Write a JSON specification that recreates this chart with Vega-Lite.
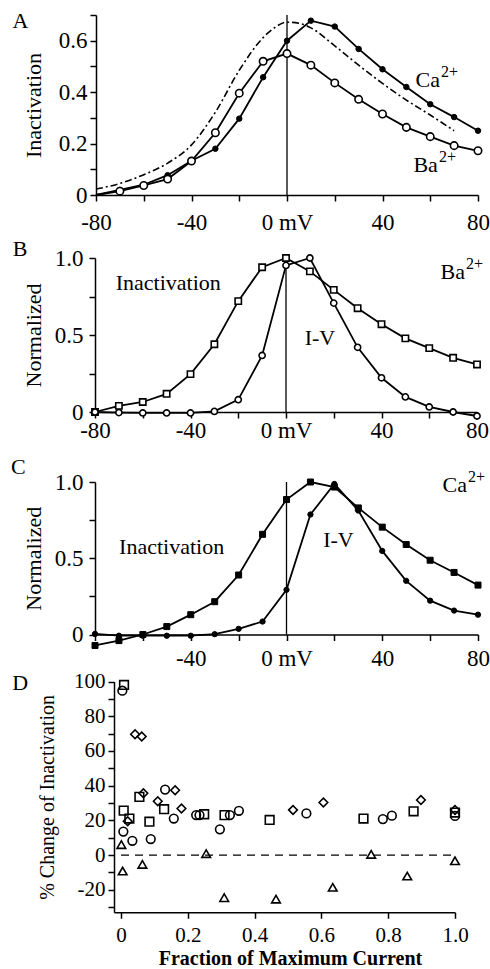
{
  "$schema": "https://vega.github.io/schema/vega-lite/v6.json",
  "width": 490,
  "height": 969,
  "autosize": "none",
  "padding": 0,
  "background": "white",
  "config": {
    "font": "Liberation Serif",
    "view": {"stroke": null},
    "axis": {
      "grid": false,
      "domainColor": "black",
      "domainWidth": 1.5,
      "tickColor": "black",
      "tickWidth": 1.5,
      "tickSize": 6,
      "labelColor": "black",
      "titleColor": "black",
      "labelFont": "Liberation Serif",
      "titleFont": "Liberation Serif",
      "labelFontSize": 23,
      "titleFontSize": 22,
      "titleFontWeight": "normal",
      "labelPadding": 3,
      "labelFlush": false,
      "labelOverlap": false,
      "labelBound": false
    },
    "text": {"font": "Liberation Serif", "fontSize": 22, "color": "black"}
  },
  "datasets": {
    "a": [
      {"x": -80, "y": 0.0, "s": "Ca"}, {"x": -70, "y": 0.02, "s": "Ca"}, {"x": -60, "y": 0.04, "s": "Ca"}, {"x": -50, "y": 0.077, "s": "Ca"}, {"x": -40, "y": 0.133, "s": "Ca"}, {"x": -30, "y": 0.18, "s": "Ca"}, {"x": -20, "y": 0.297, "s": "Ca"}, {"x": -10, "y": 0.458, "s": "Ca"}, {"x": 0, "y": 0.6, "s": "Ca"}, {"x": 10, "y": 0.678, "s": "Ca"}, {"x": 20, "y": 0.655, "s": "Ca"}, {"x": 30, "y": 0.568, "s": "Ca"}, {"x": 40, "y": 0.489, "s": "Ca"}, {"x": 50, "y": 0.42, "s": "Ca"}, {"x": 60, "y": 0.353, "s": "Ca"}, {"x": 70, "y": 0.303, "s": "Ca"}, {"x": 80, "y": 0.25, "s": "Ca"},
      {"x": -80, "y": 0.0, "s": "Ba"}, {"x": -70, "y": 0.015, "s": "Ba"}, {"x": -60, "y": 0.037, "s": "Ba"}, {"x": -50, "y": 0.062, "s": "Ba"}, {"x": -40, "y": 0.132, "s": "Ba"}, {"x": -30, "y": 0.242, "s": "Ba"}, {"x": -20, "y": 0.396, "s": "Ba"}, {"x": -10, "y": 0.52, "s": "Ba"}, {"x": 0, "y": 0.55, "s": "Ba"}, {"x": 10, "y": 0.505, "s": "Ba"}, {"x": 20, "y": 0.436, "s": "Ba"}, {"x": 30, "y": 0.372, "s": "Ba"}, {"x": 40, "y": 0.315, "s": "Ba"}, {"x": 50, "y": 0.263, "s": "Ba"}, {"x": 60, "y": 0.227, "s": "Ba"}, {"x": 70, "y": 0.192, "s": "Ba"}, {"x": 80, "y": 0.172, "s": "Ba"},
      {"x": -80, "y": 0.023, "s": "pred"}, {"x": -70, "y": 0.045, "s": "pred"}, {"x": -60, "y": 0.079, "s": "pred"}, {"x": -50, "y": 0.124, "s": "pred"}, {"x": -40, "y": 0.195, "s": "pred"}, {"x": -30, "y": 0.322, "s": "pred"}, {"x": -20, "y": 0.485, "s": "pred"}, {"x": -10, "y": 0.612, "s": "pred"}, {"x": -5, "y": 0.652, "s": "pred"}, {"x": 0, "y": 0.672, "s": "pred"}, {"x": 5, "y": 0.668, "s": "pred"}, {"x": 10, "y": 0.65, "s": "pred"}, {"x": 20, "y": 0.58, "s": "pred"}, {"x": 30, "y": 0.505, "s": "pred"}, {"x": 40, "y": 0.434, "s": "pred"}, {"x": 50, "y": 0.369, "s": "pred"}, {"x": 60, "y": 0.311, "s": "pred"}, {"x": 70, "y": 0.25, "s": "pred"}
    ],
    "aRule": [{"x": 0, "y": 0, "y2": 0.7}],
    "aText": [
      {"x": -111.6, "y": 0.675, "t": "A", "w": "normal"}
    ],
    "aIon": [
      {"x": 64.1, "y": 0.448, "t": "Ca", "sup": "2+"},
      {"x": 63.2, "y": 0.117, "t": "Ba", "sup": "2+"}
    ],
    "b": [
      {"x": -80, "y": 0.0, "s": "Inact"}, {"x": -70, "y": 0.04, "s": "Inact"}, {"x": -60, "y": 0.065, "s": "Inact"}, {"x": -50, "y": 0.118, "s": "Inact"}, {"x": -40, "y": 0.246, "s": "Inact"}, {"x": -30, "y": 0.44, "s": "Inact"}, {"x": -20, "y": 0.72, "s": "Inact"}, {"x": -10, "y": 0.94, "s": "Inact"}, {"x": 0, "y": 1.0, "s": "Inact"}, {"x": 10, "y": 0.913, "s": "Inact"}, {"x": 20, "y": 0.793, "s": "Inact"}, {"x": 30, "y": 0.674, "s": "Inact"}, {"x": 40, "y": 0.57, "s": "Inact"}, {"x": 50, "y": 0.478, "s": "Inact"}, {"x": 60, "y": 0.415, "s": "Inact"}, {"x": 70, "y": 0.352, "s": "Inact"}, {"x": 80, "y": 0.309, "s": "Inact"},
      {"x": -80, "y": 0.0, "s": "IV"}, {"x": -70, "y": -0.004, "s": "IV"}, {"x": -60, "y": -0.006, "s": "IV"}, {"x": -50, "y": -0.006, "s": "IV"}, {"x": -40, "y": -0.006, "s": "IV"}, {"x": -30, "y": 0.004, "s": "IV"}, {"x": -20, "y": 0.08, "s": "IV"}, {"x": -10, "y": 0.367, "s": "IV"}, {"x": 0, "y": 0.952, "s": "IV"}, {"x": 10, "y": 1.0, "s": "IV"}, {"x": 20, "y": 0.707, "s": "IV"}, {"x": 30, "y": 0.42, "s": "IV"}, {"x": 40, "y": 0.222, "s": "IV"}, {"x": 50, "y": 0.098, "s": "IV"}, {"x": 60, "y": 0.033, "s": "IV"}, {"x": 70, "y": 0.0, "s": "IV"}, {"x": 80, "y": -0.026, "s": "IV"}
    ],
    "bRule": [{"x": 0, "y": 0, "y2": 1.0}],
    "bText": [
      {"x": -111.4, "y": 1.058, "t": "B", "w": "bold"},
      {"x": -49.3, "y": 0.836, "t": "Inactivation", "w": "normal"},
      {"x": 14.2, "y": 0.479, "t": "I-V", "w": "normal"}
    ],
    "bIon": [
      {"x": 75, "y": 0.909, "t": "Ba", "sup": "2+"}
    ],
    "c": [
      {"x": -80, "y": -0.072, "s": "Inact"}, {"x": -70, "y": -0.04, "s": "Inact"}, {"x": -60, "y": 0.0, "s": "Inact"}, {"x": -50, "y": 0.052, "s": "Inact"}, {"x": -40, "y": 0.13, "s": "Inact"}, {"x": -30, "y": 0.215, "s": "Inact"}, {"x": -20, "y": 0.39, "s": "Inact"}, {"x": -10, "y": 0.657, "s": "Inact"}, {"x": 0, "y": 0.885, "s": "Inact"}, {"x": 10, "y": 1.0, "s": "Inact"}, {"x": 20, "y": 0.967, "s": "Inact"}, {"x": 30, "y": 0.83, "s": "Inact"}, {"x": 40, "y": 0.704, "s": "Inact"}, {"x": 50, "y": 0.59, "s": "Inact"}, {"x": 60, "y": 0.487, "s": "Inact"}, {"x": 70, "y": 0.407, "s": "Inact"}, {"x": 80, "y": 0.324, "s": "Inact"},
      {"x": -80, "y": 0.004, "s": "IV"}, {"x": -70, "y": -0.008, "s": "IV"}, {"x": -60, "y": -0.008, "s": "IV"}, {"x": -50, "y": -0.008, "s": "IV"}, {"x": -40, "y": -0.008, "s": "IV"}, {"x": -30, "y": 0.002, "s": "IV"}, {"x": -20, "y": 0.037, "s": "IV"}, {"x": -10, "y": 0.085, "s": "IV"}, {"x": 0, "y": 0.293, "s": "IV"}, {"x": 10, "y": 0.787, "s": "IV"}, {"x": 20, "y": 0.987, "s": "IV"}, {"x": 30, "y": 0.813, "s": "IV"}, {"x": 40, "y": 0.548, "s": "IV"}, {"x": 50, "y": 0.352, "s": "IV"}, {"x": 60, "y": 0.222, "s": "IV"}, {"x": 70, "y": 0.157, "s": "IV"}, {"x": 80, "y": 0.13, "s": "IV"}
    ],
    "cRule": [{"x": 0, "y": 0, "y2": 1.0}],
    "cText": [
      {"x": -112, "y": 1.098, "t": "C", "w": "normal"},
      {"x": -48, "y": 0.576, "t": "Inactivation", "w": "normal"},
      {"x": 21.7, "y": 0.62, "t": "I-V", "w": "normal"}
    ],
    "cIon": [
      {"x": 75.4, "y": 0.98, "t": "Ca", "sup": "2+"}
    ],
    "d": [
      {"x": 0.004, "y": 94.7, "shape": "circle"}, {"x": 0.007, "y": 13.5, "shape": "circle"}, {"x": 0.034, "y": 8.2, "shape": "circle"}, {"x": 0.089, "y": 9.2, "shape": "circle"}, {"x": 0.132, "y": 37.7, "shape": "circle"}, {"x": 0.158, "y": 21, "shape": "circle"}, {"x": 0.225, "y": 23, "shape": "circle"}, {"x": 0.235, "y": 23, "shape": "circle"}, {"x": 0.296, "y": 14.8, "shape": "circle"}, {"x": 0.326, "y": 23, "shape": "circle"}, {"x": 0.353, "y": 25.5, "shape": "circle"}, {"x": 0.555, "y": 24, "shape": "circle"}, {"x": 0.784, "y": 20.7, "shape": "circle"}, {"x": 0.811, "y": 22.7, "shape": "circle"}, {"x": 1.0, "y": 22.5, "shape": "circle"},
      {"x": 0.009, "y": 98, "shape": "square"}, {"x": 0.008, "y": 25.6, "shape": "square"}, {"x": 0.025, "y": 21, "shape": "square"}, {"x": 0.055, "y": 33.5, "shape": "square"}, {"x": 0.085, "y": 19.2, "shape": "square"}, {"x": 0.129, "y": 26.4, "shape": "square"}, {"x": 0.249, "y": 23.5, "shape": "square"}, {"x": 0.31, "y": 23, "shape": "square"}, {"x": 0.445, "y": 20.2, "shape": "square"}, {"x": 0.726, "y": 21, "shape": "square"}, {"x": 0.876, "y": 25.2, "shape": "square"}, {"x": 1.0, "y": 24.5, "shape": "square"},
      {"x": 0.02, "y": 19.5, "shape": "diamond"}, {"x": 0.042, "y": 69.6, "shape": "diamond"}, {"x": 0.062, "y": 68.3, "shape": "diamond"}, {"x": 0.067, "y": 35.6, "shape": "diamond"}, {"x": 0.11, "y": 31, "shape": "diamond"}, {"x": 0.162, "y": 37.3, "shape": "diamond"}, {"x": 0.181, "y": 26.8, "shape": "diamond"}, {"x": 0.515, "y": 26, "shape": "diamond"}, {"x": 0.606, "y": 30.3, "shape": "diamond"}, {"x": 0.898, "y": 31.7, "shape": "diamond"}, {"x": 1.0, "y": 26, "shape": "diamond"},
      {"x": 0.001, "y": 6, "shape": "triangle"}, {"x": 0.005, "y": -9.2, "shape": "triangle"}, {"x": 0.064, "y": -5.4, "shape": "triangle"}, {"x": 0.255, "y": 0.8, "shape": "triangle"}, {"x": 0.309, "y": -24.6, "shape": "triangle"}, {"x": 0.464, "y": -25.4, "shape": "triangle"}, {"x": 0.634, "y": -18.6, "shape": "triangle"}, {"x": 0.749, "y": 0.4, "shape": "triangle"}, {"x": 0.857, "y": -12.1, "shape": "triangle"}, {"x": 1.0, "y": -3.3, "shape": "triangle"}
    ],
    "dRule": [{"x": 0, "x2": 1.0, "y": 0}],
    "dText": [
      {"x": -0.302, "y": 99.1, "t": "D", "w": "normal"}
    ]
  },
  "layer": [
    {
      "encoding": {
        "x": {"field": "x", "type": "quantitative", "scale": {"domain": [-80, 80], "range": [96, 478], "nice": false, "zero": false},
          "axis": {"orient": "bottom", "offset": -774, "values": [-80, -60, -40, -20, 0, 20, 40, 60, 80], "labelExpr": "datum.value == 0 ? '0 mV' : (datum.value % 40 == 0 ? '' + datum.value : '')", "title": null, "labelPadding": 10}},
        "y": {"field": "y", "type": "quantitative", "scale": {"domain": [0, 0.7], "range": [195, 15], "nice": false, "zero": false},
          "axis": {"orient": "left", "offset": -96, "values": [0, 0.1, 0.2, 0.3, 0.4, 0.5, 0.6, 0.7], "labelExpr": "datum.value == 0 ? '0' : datum.value == 0.2 ? '0.2' : datum.value == 0.4 ? '0.4' : datum.value == 0.6 ? '0.6' : ''", "title": "Inactivation", "titleX": -63, "titleBaseline": "middle", "titleAlign": "center"}}
      },
      "layer": [
        {"data": {"name": "a"}, "transform": [{"filter": "datum.s != 'pred'"}], "mark": {"type": "line", "stroke": "black", "strokeWidth": 1.8}, "encoding": {"detail": {"field": "s"}}},
        {"data": {"name": "a"}, "transform": [{"filter": "datum.s == 'pred'"}], "mark": {"type": "line", "stroke": "black", "strokeWidth": 1.6, "strokeDash": [7, 3, 2, 3], "interpolate": "monotone"}, "encoding": {}},
        {"data": {"name": "aRule"}, "mark": {"type": "rule", "stroke": "black", "strokeWidth": 1.3}, "encoding": {"y2": {"field": "y2"}}},
        {"data": {"name": "a"}, "transform": [{"filter": "datum.s == 'Ca' && datum.x > -80"}], "mark": {"type": "point", "shape": "circle", "filled": true, "fill": "black", "stroke": "black", "strokeWidth": 1, "size": 30, "opacity": 1}},
        {"data": {"name": "a"}, "transform": [{"filter": "datum.s == 'Ba' && datum.x > -80"}], "mark": {"type": "point", "shape": "circle", "filled": true, "fill": "white", "stroke": "black", "strokeWidth": 1.6, "size": 55, "opacity": 1}},
        {"data": {"name": "aText"}, "mark": {"type": "text", "fontSize": 22, "align": "center", "baseline": "middle"}, "encoding": {"text": {"field": "t"}, "fontWeight": {"field": "w", "type": "nominal", "scale": null}}},
        {"data": {"name": "aIon"}, "mark": {"type": "text", "fontSize": 22, "align": "right", "baseline": "middle"}, "encoding": {"text": {"field": "t"}}},
        {"data": {"name": "aIon"}, "mark": {"type": "text", "fontSize": 16, "align": "left", "baseline": "middle", "dx": 1, "dy": -8}, "encoding": {"text": {"field": "sup"}}}
      ]
    },
    {
      "encoding": {
        "x": {"field": "x", "type": "quantitative", "scale": {"domain": [-80, 80], "range": [95, 477], "nice": false, "zero": false},
          "axis": {"orient": "bottom", "offset": -557, "values": [-80, -60, -40, -20, 0, 20, 40, 60, 80], "labelExpr": "datum.value == 0 ? '0 mV' : (datum.value % 40 == 0 ? '' + datum.value : '')", "title": null, "labelPadding": 1}},
        "y": {"field": "y", "type": "quantitative", "scale": {"domain": [0, 1], "range": [412, 258], "nice": false, "zero": false},
          "axis": {"orient": "left", "offset": -95, "values": [0, 0.25, 0.5, 0.75, 1], "labelExpr": "datum.value == 0 ? '0' : datum.value == 0.5 ? '0.5' : datum.value == 1 ? '1.0' : ''", "title": "Normalized", "titleX": -62, "titleBaseline": "middle", "titleAlign": "center", "labelPadding": 6}}
      },
      "layer": [
        {"data": {"name": "b"}, "mark": {"type": "line", "stroke": "black", "strokeWidth": 1.8}, "encoding": {"detail": {"field": "s"}}},
        {"data": {"name": "bRule"}, "mark": {"type": "rule", "stroke": "black", "strokeWidth": 1.3}, "encoding": {"y2": {"field": "y2"}}},
        {"data": {"name": "b"}, "transform": [{"filter": "datum.s == 'Inact'"}], "mark": {"type": "point", "shape": "square", "filled": true, "fill": "white", "stroke": "black", "strokeWidth": 1.6, "size": 40, "opacity": 1}},
        {"data": {"name": "b"}, "transform": [{"filter": "datum.s == 'IV'"}], "mark": {"type": "point", "shape": "circle", "filled": true, "fill": "white", "stroke": "black", "strokeWidth": 1.6, "size": 38, "opacity": 1}},
        {"data": {"name": "bText"}, "mark": {"type": "text", "fontSize": 22, "align": "center", "baseline": "middle"}, "encoding": {"text": {"field": "t"}, "fontWeight": {"field": "w", "type": "nominal", "scale": null}}},
        {"data": {"name": "bIon"}, "mark": {"type": "text", "fontSize": 22, "align": "right", "baseline": "middle"}, "encoding": {"text": {"field": "t"}}},
        {"data": {"name": "bIon"}, "mark": {"type": "text", "fontSize": 16, "align": "left", "baseline": "middle", "dx": 1, "dy": -8}, "encoding": {"text": {"field": "sup"}}}
      ]
    },
    {
      "encoding": {
        "x": {"field": "x", "type": "quantitative", "scale": {"domain": [-80, 80], "range": [95, 478], "nice": false, "zero": false},
          "axis": {"orient": "bottom", "offset": -334.5, "values": [-80, -60, -40, -20, 0, 20, 40, 60, 80], "labelExpr": "datum.value == 0 ? '0 mV' : (datum.value % 40 == 0 && datum.value != -80 ? '' + datum.value : '')", "title": null, "labelPadding": 7}},
        "y": {"field": "y", "type": "quantitative", "scale": {"domain": [0, 1], "range": [634.5, 482], "nice": false, "zero": false},
          "axis": {"orient": "left", "offset": -95, "values": [0, 0.25, 0.5, 0.75, 1], "labelExpr": "datum.value == 0 ? '0' : datum.value == 0.5 ? '0.5' : datum.value == 1 ? '1.0' : ''", "title": "Normalized", "titleX": -62, "titleBaseline": "middle", "titleAlign": "center", "labelPadding": 6}}
      },
      "layer": [
        {"data": {"name": "c"}, "mark": {"type": "line", "stroke": "black", "strokeWidth": 1.8}, "encoding": {"detail": {"field": "s"}}},
        {"data": {"name": "cRule"}, "mark": {"type": "rule", "stroke": "black", "strokeWidth": 1.3}, "encoding": {"y2": {"field": "y2"}}},
        {"data": {"name": "c"}, "transform": [{"filter": "datum.s == 'Inact'"}], "mark": {"type": "point", "shape": "square", "filled": true, "fill": "black", "stroke": "black", "strokeWidth": 1, "size": 36, "opacity": 1}},
        {"data": {"name": "c"}, "transform": [{"filter": "datum.s == 'IV'"}], "mark": {"type": "point", "shape": "circle", "filled": true, "fill": "black", "stroke": "black", "strokeWidth": 1, "size": 28, "opacity": 1}},
        {"data": {"name": "cText"}, "mark": {"type": "text", "fontSize": 22, "align": "center", "baseline": "middle"}, "encoding": {"text": {"field": "t"}, "fontWeight": {"field": "w", "type": "nominal", "scale": null}}},
        {"data": {"name": "cIon"}, "mark": {"type": "text", "fontSize": 22, "align": "right", "baseline": "middle"}, "encoding": {"text": {"field": "t"}}},
        {"data": {"name": "cIon"}, "mark": {"type": "text", "fontSize": 16, "align": "left", "baseline": "middle", "dx": 1, "dy": -8}, "encoding": {"text": {"field": "sup"}}}
      ]
    },
    {
      "encoding": {
        "x": {"field": "x", "type": "quantitative", "scale": {"domain": [-0.021, 1.0], "range": [114, 455], "nice": false, "zero": false},
          "axis": {"orient": "bottom", "offset": -56.7, "values": [0, 0.2, 0.4, 0.6, 0.8, 1.0], "labelExpr": "datum.value == 0 ? '0' : format(datum.value, '.1f')", "title": "Fraction of Maximum Current", "titleFontWeight": "bold", "titleFontSize": 20, "titleX": 290, "titleY": 46, "titleBaseline": "middle", "titleAlign": "center", "labelPadding": 6, "labelFontSize": 21}},
        "y": {"field": "y", "type": "quantitative", "scale": {"domain": [-33, 100], "range": [912.3, 681.5], "nice": false, "zero": false},
          "axis": {"orient": "left", "offset": -114, "values": [-30, -20, -10, 0, 10, 20, 30, 40, 50, 60, 70, 80, 90, 100], "labelExpr": "datum.value % 20 == 0 ? '' + datum.value : ''", "title": "% Change of Inactivation", "titleFontSize": 20, "titleX": -67, "titleBaseline": "middle", "titleAlign": "center", "labelFontSize": 21, "labelPadding": 3}}
      },
      "layer": [
        {"data": {"name": "dRule"}, "mark": {"type": "rule", "stroke": "black", "strokeWidth": 1.2, "strokeDash": [8, 6]}, "encoding": {"x2": {"field": "x2"}}},
        {"data": {"name": "d"}, "mark": {"type": "point", "filled": false, "stroke": "black", "strokeWidth": 1.6, "size": 75, "opacity": 1}, "encoding": {"shape": {"field": "shape", "type": "nominal", "scale": {"domain": ["circle", "square", "diamond", "triangle"], "range": ["circle", "square", "diamond", "triangle-up"]}, "legend": null}}},
        {"data": {"name": "dText"}, "mark": {"type": "text", "fontSize": 22, "align": "center", "baseline": "middle"}, "encoding": {"text": {"field": "t"}, "fontWeight": {"field": "w", "type": "nominal", "scale": null}}}
      ]
    }
  ],
  "resolve": {
    "scale": {"x": "independent", "y": "independent"},
    "axis": {"x": "independent", "y": "independent"}
  }
}
